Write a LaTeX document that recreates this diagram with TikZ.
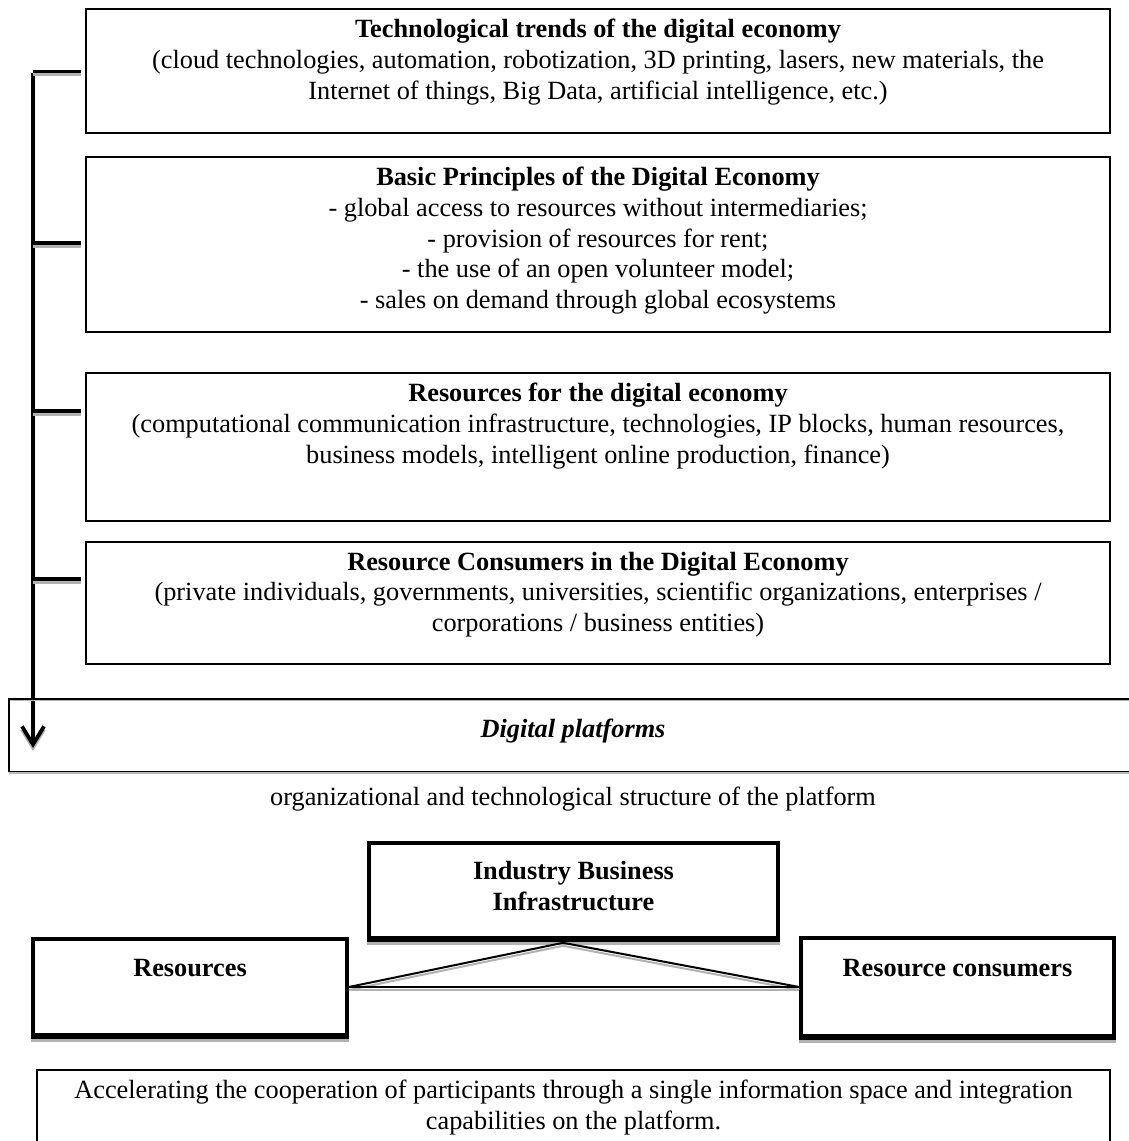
\documentclass[tikz,border=0pt]{standalone}
\usepackage{fontspec}
\setmainfont{Liberation Serif}
\usetikzlibrary{arrows.meta,calc,fit}
\begin{document}
\begin{tikzpicture}[x=0.5pt,y=-0.5pt,
  frame/.style={draw, line width=1pt, inner sep=0pt},
  thick frame/.style={draw, line width=1.8pt, inner sep=0pt},
  txt/.style={inner sep=0pt, align=center, font=\fontsize{13.15}{15.4}\selectfont},
  btxt/.style={txt, font=\fontsize{13.15}{15.4}\selectfont\bfseries},
  tickline/.style={line width=1.7pt, shorten >=2pt},
  shade/.style={draw=gray!60, transform canvas={yshift=-1.5pt}},
  softshade/.style={draw=gray!55, transform canvas={yshift=-0.7pt}},
  spine/.style={line width=1.9pt, -{Straight Barb[length=9pt,width=11pt]}},
  link/.style={line width=1pt},
]
\useasboundingbox (0,0) rectangle (1129,1141);
\clip (0,0) rectangle (1129,1141);

% ---- upper boxes
\node (b1) [frame, fit={(86,9) (1110,133)}] {};
\node (b2) [frame, fit={(86,157) (1110,332)}] {};
\node (b3) [frame, fit={(86,373) (1110,521)}] {};
\node (b4) [frame, fit={(86,542) (1110,664)}] {};

\node (t1) [txt, anchor=north] at ($(b1.north)+(0,10.5)$)
  {\textbf{Technological trends of the digital economy}\\
   (cloud technologies, automation, robotization, 3D printing, lasers, new materials, the\\
   Internet of things, Big Data, artificial intelligence, etc.)};
\node (t2) [txt, anchor=north] at ($(b2.north)+(0,10.5)$)
  {\textbf{Basic Principles of the Digital Economy}\\
   - global access to resources without intermediaries;\\
   - provision of resources for rent;\\
   - the use of an open volunteer model;\\
   - sales on demand through global ecosystems};
\node (t3) [txt, anchor=north] at ($(b3.north)+(0,10.5)$)
  {\textbf{Resources for the digital economy}\\
   (computational communication infrastructure, technologies, IP blocks, human resources,\\
   business models, intelligent online production, finance)};
\node (t4) [txt, anchor=north] at ($(b4.north)+(0,10.5)$)
  {\textbf{Resource Consumers in the Digital Economy}\\
   (private individuals, governments, universities, scientific organizations, enterprises /\\
   corporations / business entities)};

% ---- spine with ticks
\coordinate (s0) at (33,73);
\coordinate (s1) at (33,748);
\coordinate (j1) at (33,71.5);
\coordinate (j2) at (33,243);
\coordinate (j3) at (33,411);
\coordinate (j4) at (33,579);

\draw[spine, shade] (s0) -- (s1);
\draw[spine] (s0) -- (s1);
\foreach \i in {1,2,3,4}{
  \draw[tickline, shade] (j\i) -- (b\i.west |- j\i);
  \draw[tickline] (j\i) -- (b\i.west |- j\i);
}

% ---- digital platforms band
\node (dp) [inner sep=0pt, fit={(9,699) (1170,771)}] {};
\draw[softshade, line width=0.9pt] (dp.north west) -- (dp.north east);
\draw[softshade, line width=0.9pt] (dp.south west) -- (dp.south east);
\draw[line width=0.9pt] (dp.north east) -- (dp.north west) -- (dp.south west) -- (dp.south east);
\node (dpt) [anchor=base, inner sep=0pt, font=\fontsize{13.15}{15.4}\selectfont\bfseries\itshape] at (573,737) {Digital platforms};
\node (org) [anchor=base, inner sep=0pt, font=\fontsize{13.15}{15.4}\selectfont] at (573,805) {organizational and technological structure of the platform};

% ---- platform structure
\node (ind) [thick frame, fit={(369,843) (778,938)}] {};
\node (res) [thick frame, fit={(33,939) (347,1035)}] {};
\node (con) [thick frame, fit={(801,938) (1114,1036)}] {};
\foreach \n in {ind,res,con}{
  \draw[shade, line width=2pt] (\n.south west) -- (\n.south east);
  \draw[line width=1.8pt] (\n.south west) -- (\n.south east);
}
\node (indt) [btxt, anchor=north] at ($(ind.north)+(0,19.5)$) {Industry Business\\Infrastructure};
\node (rest) [btxt, anchor=base] at ($(res.north)+(0,39)$) {Resources};
\node (cont) [btxt, anchor=base] at ($(con.north)+(0,40)$) {Resource consumers};

\coordinate (apex) at ($(ind.south)+(-10.5,3)$);
\draw[link, shade] (res.east) -- (apex) -- (con.west);
\draw[link, shade] (res.east) -- (con.west);
\draw[link] (res.east) -- (apex) -- (con.west);
\draw[link] (res.east) -- (con.west);

% ---- bottom box
\node (acc) [frame, fit={(37,1070) (1110,1170)}] {};
\node (acct) [txt, anchor=north] at ($(acc.north)+(0,10.5)$)
  {Accelerating the cooperation of participants through a single information space and integration\\
   capabilities on the platform.};
\end{tikzpicture}
\end{document}
